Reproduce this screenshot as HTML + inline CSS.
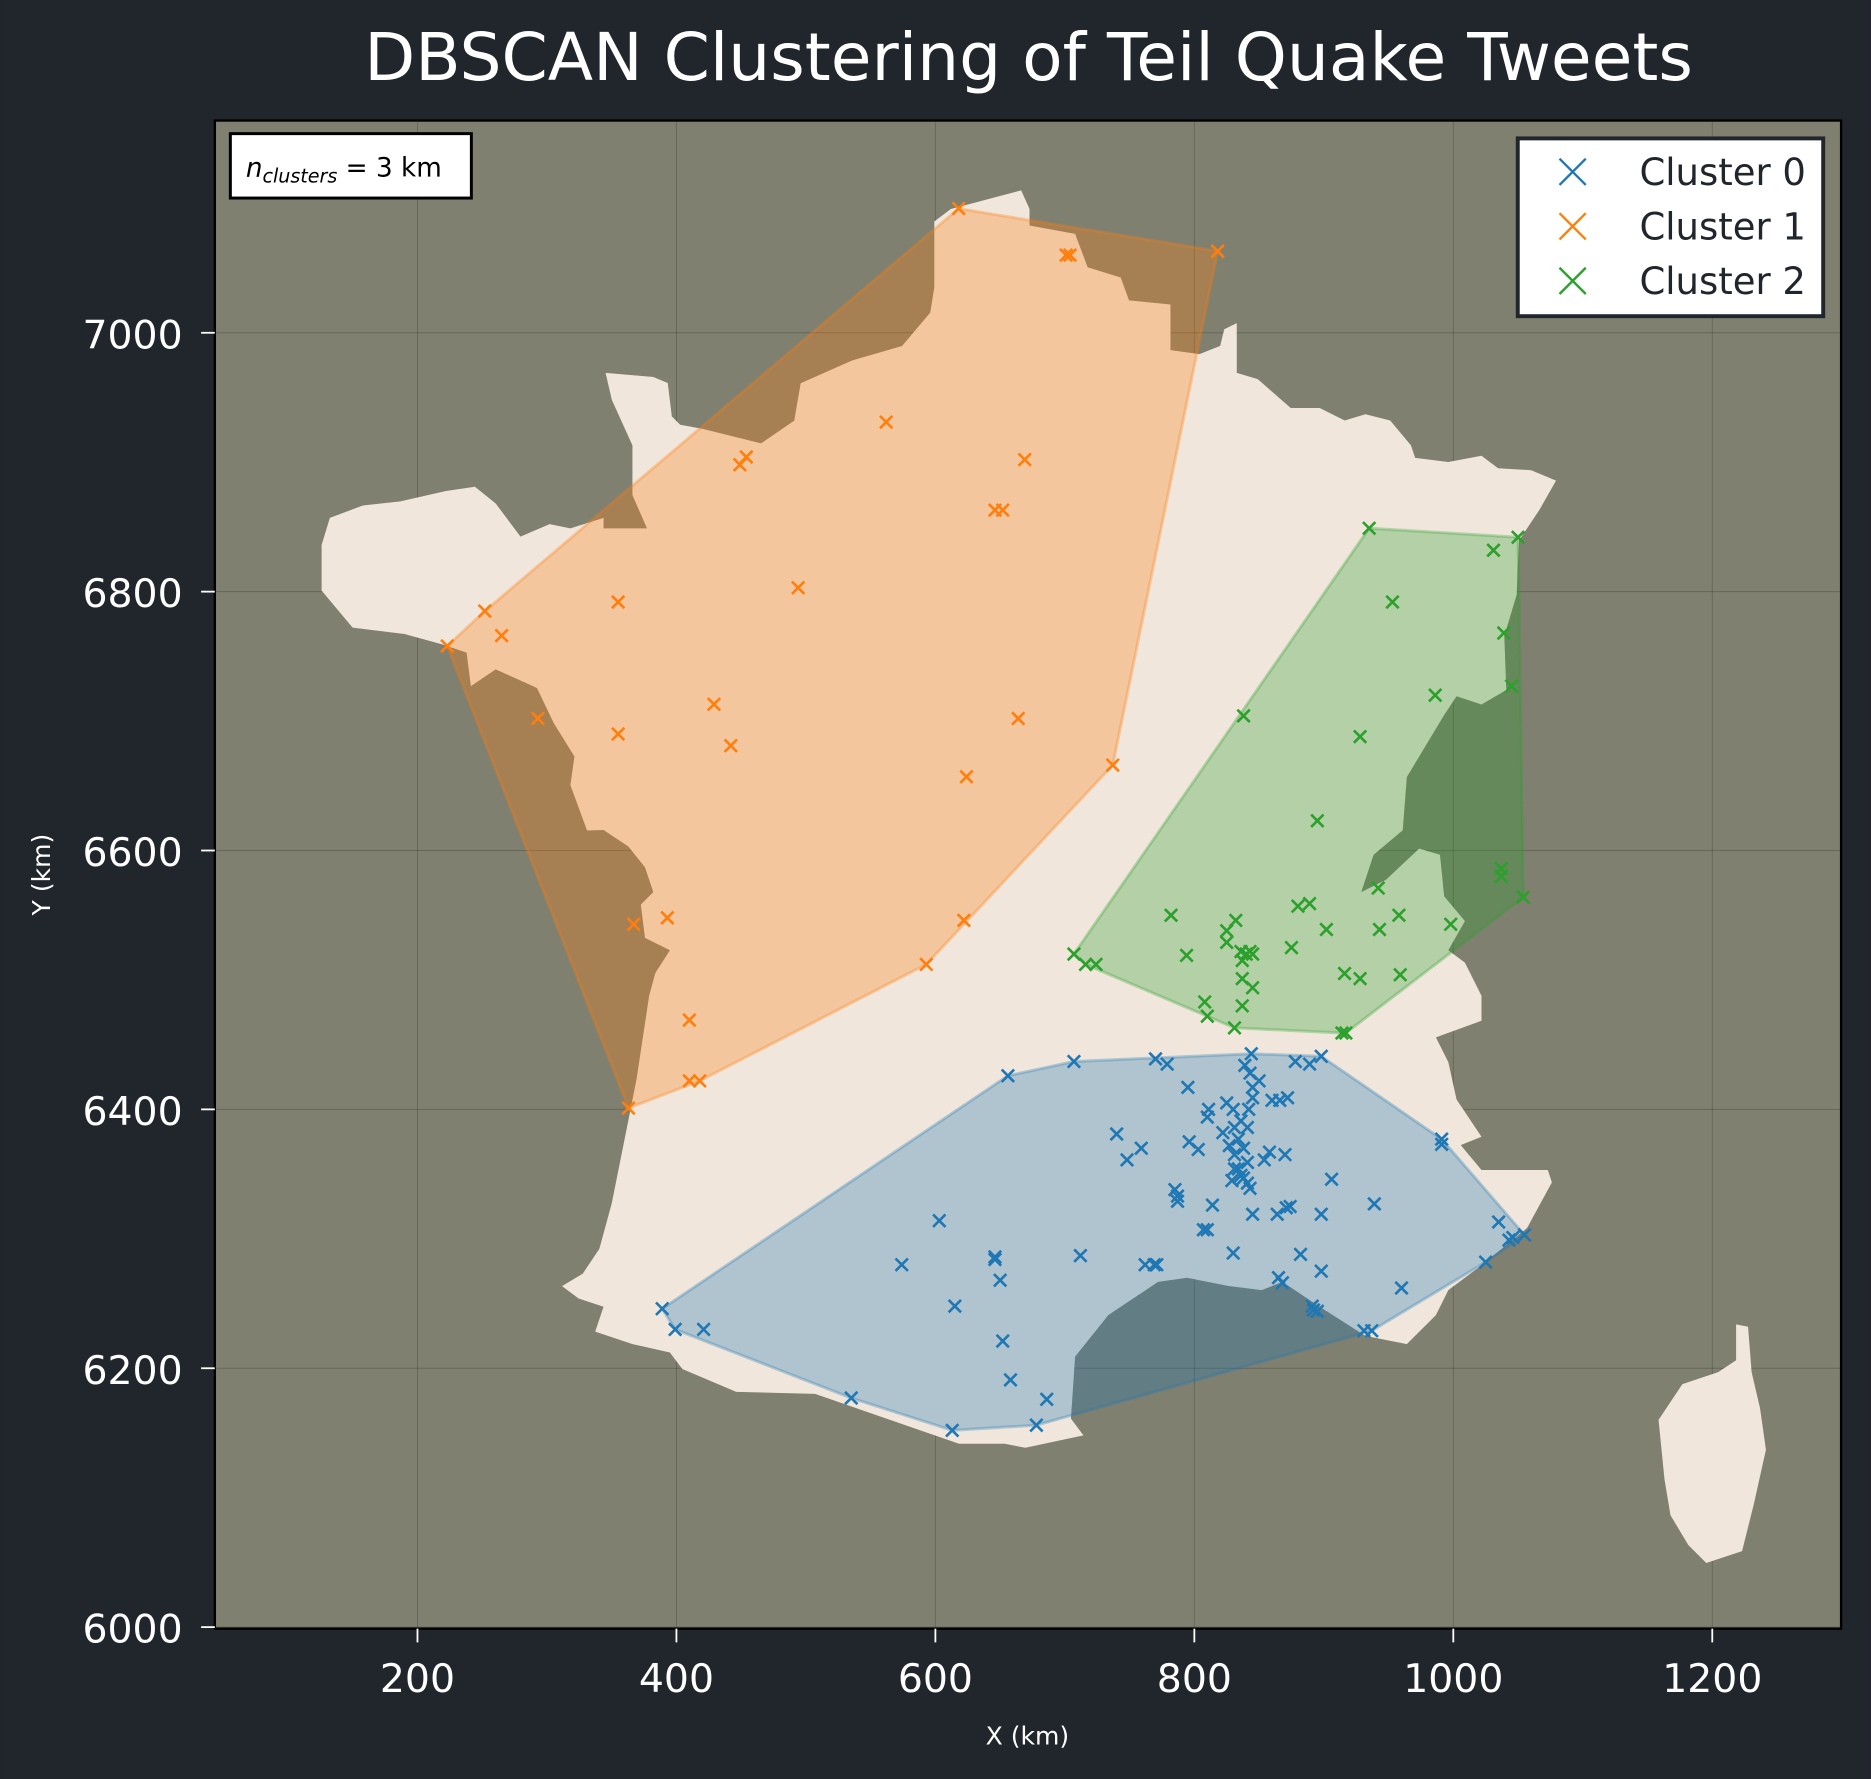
<!DOCTYPE html>
<html><head><meta charset="utf-8"><style>
html,body{margin:0;padding:0;background:#21252c;}
svg{display:block;font-family:"DejaVu Sans","Liberation Sans",sans-serif;}
</style></head><body>
<svg id="chart" width="1871" height="1779" viewBox="0 0 1568 1491" xmlns="http://www.w3.org/2000/svg">
<rect x="0" y="0" width="1568" height="1491" fill="#21252c"/>
<text x="862" y="67" text-anchor="middle" fill="#ffffff" font-size="55.5">DBSCAN Clustering of Teil Quake Tweets</text>
<rect x="180" y="101" width="1363" height="1264" fill="#808070"/>
<g id="grid"></g>
<g id="map">
<polygon fill="#f0e6dc" points="269.5,495 269.5,456.7 276.4,434 304,423.7 335.5,420.2 373.7,411.5 398,408 415.4,422 436.2,449.8 460.6,439.3 478,442.8 505.8,434 505.8,442.8 542.2,442.8 530,415 530,373.3 512.7,335 507.5,312.5 547.5,316 559.6,321 563,349 570,356 589,359.4 637.8,371.6 665.6,352.5 671,321.2 714.3,302 756,290 779.6,262 783,241 783,185.6 796.8,175.2 855.8,159.6 862.8,175.2 862.8,189 901,196 911.5,224 939.2,232.6 946.2,251.7 980.9,255.2 980.9,293.4 1005.3,296.8 1022.6,289.9 1026,276 1036.5,270.8 1036.5,312.5 1054,317.7 1081.7,342 1106,342 1127,352.4 1144.3,347.2 1165.1,352.4 1182.5,373.3 1186,383.7 1213.8,387.2 1241.6,382 1255.5,392.4 1283.3,394.1 1304.1,402.8 1290.2,427.2 1272.9,453.2 1271.1,498.4 1260.7,533.1 1262.4,578.3 1241.6,590.5 1220.7,583.5 1210.3,599.2 1179,651.3 1175.6,695.8 1151.2,716.4 1140.8,747.7 1161.6,737.3 1189.4,711.2 1206.8,716.4 1210.3,751.2 1227.7,772 1213.8,796.4 1227.7,806.8 1241.6,834.6 1241.6,855.5 1203.4,869.4 1213.8,890.2 1220.7,921.5 1241.6,952.7 1224.2,959.7 1241.6,980.6 1297.2,980.6 1300.6,991 1279.8,1029.2 1241.6,1060.5 1213.8,1081.3 1203.4,1102.2 1179,1126.5 1144.3,1119.6 1106,1095.2 1074.8,1074.4 1057.4,1081.3 1029.6,1077.8 994.9,1070.9 970.5,1074.4 928.8,1102.2 901,1137 897.5,1189 908,1203 859.3,1213.4 842,1210 803.7,1210 683,1168.2 617,1166.5 571.8,1147.4 561.4,1133.5 530.1,1126.5 498.8,1116.1 505.8,1095.2 484.9,1088.3 471,1077.9 488.4,1067.4 502.3,1046.6 512.7,1008.4 526.6,938.9 533.5,904.1 544,834.6 549.2,815.5 561.4,796.4 540.5,786 537,758.2 547.5,747.7 540.5,726.9 526.6,709.5 505.8,695.6 492,696 478,658 481.4,634 464,606 450,576.6 415.4,561 394.6,575 391,547 370.2,540 339,531.4 295.5,526"/>
<polygon fill="#f0e6dc" points="1455,1110 1465,1112 1468,1150 1475,1180 1480,1215 1470,1260 1460,1300 1430,1310 1415,1295 1400,1270 1395,1240 1390,1190 1410,1160 1440,1150 1455,1140"/>
</g>
<g id="hulls"></g>
<g id="points"></g>
<rect x="180" y="101" width="1363" height="1264" fill="none" stroke="#000" stroke-width="2"/>
<g id="axes"></g>
<text x="861" y="1462" text-anchor="middle" fill="#ffffff" font-size="21">X (km)</text>
<text x="42" y="733" text-anchor="middle" fill="#ffffff" font-size="21" transform="rotate(-90 42 733)">Y (km)</text>
<g>
<rect x="193" y="112" width="202" height="54" fill="#ffffff" stroke="#000" stroke-width="2.5"/>
<text x="206" y="148" font-size="22" fill="#000"><tspan font-style="italic">n</tspan><tspan font-size="16" dy="5" font-style="italic">clusters</tspan><tspan dy="-5"> = 3 km</tspan></text>
</g>
<g id="legend">
<rect x="1272" y="116" width="256" height="149" fill="#ffffff" stroke="#21252c" stroke-width="3.3"/>
</g>
</svg>
<script>
const xTicks=[200,400,600,800,1000,1200];
const yTicks=[6000,6200,6400,6600,6800,7000];
const clusterNames=["Cluster 0","Cluster 1","Cluster 2"];
const clusterColors=["#1f77b4","#ff7f0e","#2ca02c"];
const c0x=[898,844,839,843,850,878,889,872,866,860,845,845,842,830,825,811,810,795,770,779,707,656,836,831,841,834,838,831,841,836,829,841,843,834,827,822,796,803,858,854,870,740,748,759,785,787,787,838,831,845,814,807,810,874,871,864,906,898,939,991,991,830,882,898,865,868,891,895,892,960,937,931,1035,1025,1043,1055,1046,712,762,769,771,646,646,650,574,603,615,652,658,686,678,535,613,389,399,421];
const c0y=[6441,6443,6434,6428,6422,6437,6435,6409,6407,6407,6417,6409,6400,6400,6405,6400,6394,6417,6439,6435,6437,6426,6391,6386,6386,6377,6370,6365,6359,6349,6345,6343,6339,6354,6372,6382,6375,6369,6367,6361,6365,6381,6361,6370,6338,6333,6329,6347,6354,6319,6326,6307,6307,6325,6324,6319,6346,6319,6327,6377,6373,6289,6288,6275,6270,6266,6248,6244,6245,6262,6229,6229,6313,6282,6299,6303,6301,6287,6280,6280,6280,6286,6284,6268,6280,6314,6248,6221,6191,6176,6156,6177,6152,6246,6230,6230];
const c1x=[223,252,265,293,355,355,429,442,449,454,494,562,646,652,669,664,737,624,622,593,410,410,418,367,393,363,618,704,701,818];
const c1y=[6758,6785,6766,6702,6792,6690,6713,6681,6898,6904,6803,6931,6863,6863,6902,6702,6666,6657,6546,6512,6469,6422,6422,6543,6548,6401,7096,7060,7060,7063];
const c2x=[935,1050,1031,953,1039,986,1045,838,928,895,1037,1037,942,1054,782,832,880,889,958,998,943,902,825,825,707,716,724,794,875,836,843,837,840,845,837,916,928,959,845,808,810,837,831,914,917];
const c2y=[6849,6842,6832,6792,6768,6720,6727,6704,6688,6623,6586,6580,6571,6564,6550,6546,6557,6559,6550,6543,6539,6539,6538,6529,6520,6512,6512,6519,6525,6522,6522,6515,6520,6520,6501,6505,6501,6504,6494,6483,6472,6480,6463,6459,6459];

const X0=180,X1=1543,Y0=101,Y1=1365;
const xMin=43.5,xMax=1299.5,yMin=5998.8,yMax=7164;
function sx(v){return X0+(v-xMin)/(xMax-xMin)*(X1-X0);}
function sy(v){return Y1-(v-yMin)/(yMax-yMin)*(Y1-Y0);}
const NS="http://www.w3.org/2000/svg";
function mk(tag,attrs,parent){const e=document.createElementNS(NS,tag);for(const k in attrs)e.setAttribute(k,attrs[k]);parent.appendChild(e);return e;}

const grid=document.getElementById('grid'),axes=document.getElementById('axes');
xTicks.forEach(t=>{
  const g=mk('line',{x1:sx(t),x2:sx(t),y1:Y0,y2:Y1,stroke:'#000','stroke-opacity':0.2,'stroke-width':0.8},grid);
  
  
  const tk=mk('line',{x1:sx(t),x2:sx(t),y1:Y1,y2:Y1+11.5,stroke:'#fff','stroke-width':1.5},axes);
  
  
  const lb=mk('text',{x:sx(t),y:Y1+53,'text-anchor':'middle',fill:'#fff','font-size':33},axes);
  lb.textContent=t;
  
  
});
yTicks.forEach(t=>{
  const g=mk('line',{x1:X0,x2:X1,y1:sy(t),y2:sy(t),stroke:'#000','stroke-opacity':0.2,'stroke-width':0.8},grid);
  
  
  const tk=mk('line',{x1:X0-11.5,x2:X0,y1:sy(t),y2:sy(t),stroke:'#fff','stroke-width':1.5},axes);
  
  
  const lb=mk('text',{x:X0-27,y:sy(t)+13,'text-anchor':'end',fill:'#fff','font-size':33},axes);
  lb.textContent=t;
  
  
});

function hull(pts){
  pts=pts.slice().sort((a,b)=>a[0]-b[0]||a[1]-b[1]);
  const cr=(o,a,b)=>(a[0]-o[0])*(b[1]-o[1])-(a[1]-o[1])*(b[0]-o[0]);
  const lo=[],up=[];
  for(const p of pts){while(lo.length>=2&&cr(lo[lo.length-2],lo[lo.length-1],p)<=0)lo.pop();lo.push(p);}
  for(let i=pts.length-1;i>=0;i--){const p=pts[i];while(up.length>=2&&cr(up[up.length-2],up[up.length-1],p)<=0)up.pop();up.push(p);}
  up.pop();lo.pop();return lo.concat(up);
}
const hulls=document.getElementById('hulls'),pg=document.getElementById('points');
const data=[[c0x,c0y],[c1x,c1y],[c2x,c2y]];
data.forEach((d,ci)=>{
  const pts=d[0].map((x,i)=>[x,d[1][i]]);
  const h=hull(pts);
  const poly=mk('polygon',{points:h.map(p=>sx(p[0])+','+sy(p[1])).join(' '),fill:clusterColors[ci],'fill-opacity':0.3,stroke:clusterColors[ci],'stroke-opacity':0.3,'stroke-width':2.5},hulls);
  
  
  pts.forEach(p=>{
    const cx=sx(p[0]),cy=sy(p[1]),r=5.2;
    const m=mk('path',{d:`M${cx-r},${cy-r}L${cx+r},${cy+r}M${cx-r},${cy+r}L${cx+r},${cy-r}`,stroke:clusterColors[ci],'stroke-width':2.2,fill:'none'},pg);
    
    
  });
});
const lg=document.getElementById('legend');
clusterNames.forEach((n,i)=>{
  const cx=1318,cy=144+i*45.7,r=11;
  const m=mk('path',{d:`M${cx-r},${cy-r}L${cx+r},${cy+r}M${cx-r},${cy+r}L${cx+r},${cy-r}`,stroke:clusterColors[i],'stroke-width':2,fill:'none'},lg);
  
  
  const t=mk('text',{x:1374,y:cy+11,fill:'#21252c','font-size':31},lg);
  t.textContent=n;
  
  
});
</script>
</body></html>
